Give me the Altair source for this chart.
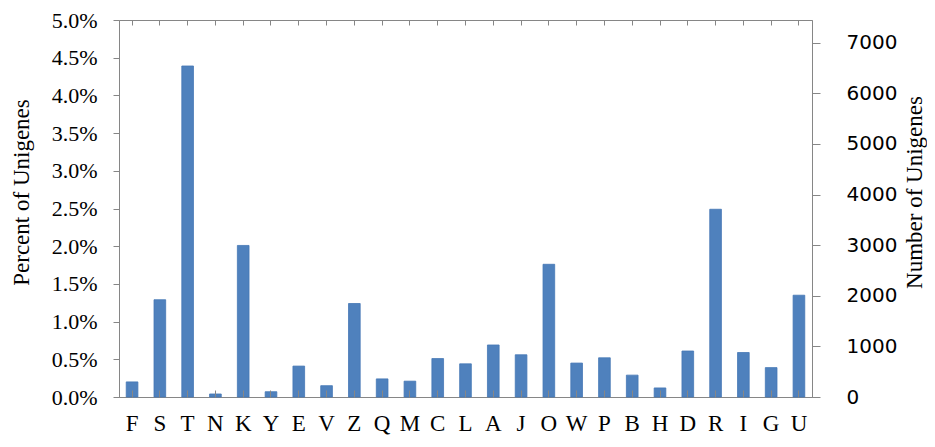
import altair as alt
import pandas as pd

categories = list("FSTNKYEVZQMCLAJOWPBHDRIGU")
percent = [0.20, 1.29, 4.39, 0.04, 2.01, 0.07, 0.41, 0.15, 1.24, 0.24, 0.21, 0.51, 0.44,
           0.69, 0.56, 1.76, 0.45, 0.52, 0.29, 0.12, 0.61, 2.49, 0.59, 0.39, 1.35]
pct_ticks = [0.0, 0.5, 1.0, 1.5, 2.0, 2.5, 3.0, 3.5, 4.0, 4.5, 5.0]
count_ticks = [0, 1000, 2000, 3000, 4000, 5000, 6000, 7000]
count_axis_max = 7447  # number of unigenes corresponding to the 5.0% top

df = pd.DataFrame({"cat": categories, "pct": percent})
counts_df = pd.DataFrame({"n": count_ticks})

GRAY = "#868686"
SERIF = "'Liberation Serif', 'Times New Roman', Times, serif"
SANS = "'DejaVu Sans', Verdana, sans-serif"


def xscale():
    return alt.Scale(paddingInner=0.58, paddingOuter=0.26)


bars = alt.Chart(df).mark_bar(color="#4F81BD", stroke="#4577B5", strokeWidth=0.8).encode(
    x=alt.X("cat:N", sort=categories, scale=xscale(),
            axis=alt.Axis(orient="bottom", title=None, ticks=False, tickSize=0,
                          domain=True, domainColor=GRAY, labelFont=SERIF,
                          labelFontSize=23, labelColor="black", labelPadding=15,
                          labelAngle=0, labelBaseline="top")),
    y=alt.Y("pct:Q", scale=alt.Scale(domain=[0, 5], nice=False, zero=True),
            axis=alt.Axis(orient="left", values=pct_ticks,
                          labelExpr="format(datum.value, '.1f') + '%'",
                          title="Percent of Unigenes", grid=False,
                          domainColor=GRAY, tickColor=GRAY, tickSize=6,
                          labelFont=SERIF, labelFontSize=22, labelColor="black",
                          labelPadding=16, titleFont=SERIF, titleFontSize=23,
                          titleFontWeight="normal", titleColor="black",
                          titleX=-86, titleY=172, titleAngle=270)),
)

right_axis = alt.Chart(counts_df).mark_point(opacity=0).encode(
    y=alt.Y("n:Q", scale=alt.Scale(domain=[0, count_axis_max], nice=False, zero=True),
            axis=alt.Axis(orient="right", values=count_ticks, format="d",
                          title="Number of Unigenes", grid=False,
                          domainColor=GRAY, tickColor=GRAY, tickSize=8,
                          labelFont=SANS, labelFontSize=20, labelColor="black",
                          labelPadding=26, titleFont=SERIF, titleFontSize=23,
                          titleFontWeight="normal", titleColor="black",
                          titleAngle=270, titleX=114, titleY=172)),
)

top_ticks = alt.Chart(df).mark_tick(opacity=0).encode(
    x=alt.X("cat:N", sort=categories, scale=xscale(),
            axis=alt.Axis(orient="top", title=None, labels=False, domain=False,
                          ticks=True, tickSize=5, offset=-5, tickColor=GRAY)),
)

bottom_ticks = alt.Chart(df).mark_tick(opacity=0).encode(
    x=alt.X("cat:N", sort=categories, scale=xscale(),
            axis=alt.Axis(orient="bottom", title=None, labels=False, domain=False,
                          ticks=True, tickSize=7, offset=-7, tickColor=GRAY,
                          zindex=1)),
)

chart = (
    alt.layer(bars, right_axis, top_ticks, bottom_ticks)
    .resolve_scale(y="independent")
    .resolve_axis(x="independent", y="independent")
    .properties(width=693, height=377,
                padding={"left": 111, "top": 12, "right": 115, "bottom": 41},
                autosize=alt.AutoSizeParams(type="none"))
    .configure_view(stroke=GRAY, strokeWidth=1)
    .configure_axis(grid=False)
)

chart.save("out.html", embed_options={"renderer": "svg", "actions": False})
